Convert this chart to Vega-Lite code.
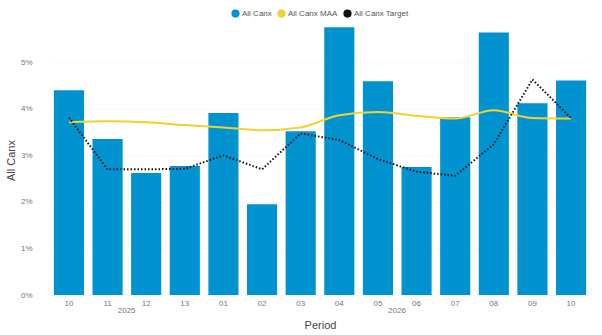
{
  "$schema": "https://vega.github.io/schema/vega-lite/v6.json",
  "width": 602,
  "height": 335,
  "autosize": {"type": "fit", "contains": "padding"},
  "padding": {"left": 5, "right": 12, "top": 9, "bottom": 5},
  "background": "white",
  "config": {
    "font": "Liberation Sans",
    "view": {"stroke": null},
    "legend": {"layout": {"top": {"anchor": "middle"}}},
    "axis": {"labelColor": "#777", "titleColor": "#444", "labelFontSize": 8, "titleFontSize": 11, "titleFontWeight": "normal"}
  },
  "datasets": {
    "main": [
      {"period": "2025-10", "canx": 0.0440, "maa": 0.0371, "target": 0.0381},
      {"period": "2025-11", "canx": 0.0335, "maa": 0.0373, "target": 0.0270},
      {"period": "2025-12", "canx": 0.0262, "maa": 0.0371, "target": 0.0270},
      {"period": "2025-13", "canx": 0.0277, "maa": 0.0365, "target": 0.0271},
      {"period": "2026-01", "canx": 0.0391, "maa": 0.0360, "target": 0.0300},
      {"period": "2026-02", "canx": 0.0195, "maa": 0.0354, "target": 0.0270},
      {"period": "2026-03", "canx": 0.0352, "maa": 0.0360, "target": 0.0347},
      {"period": "2026-04", "canx": 0.0575, "maa": 0.0386, "target": 0.0333},
      {"period": "2026-05", "canx": 0.0459, "maa": 0.0393, "target": 0.0292},
      {"period": "2026-06", "canx": 0.0275, "maa": 0.0385, "target": 0.0265},
      {"period": "2026-07", "canx": 0.0382, "maa": 0.0379, "target": 0.0256},
      {"period": "2026-08", "canx": 0.0564, "maa": 0.0397, "target": 0.0324},
      {"period": "2026-09", "canx": 0.0412, "maa": 0.0380, "target": 0.0463},
      {"period": "2026-10", "canx": 0.0461, "maa": 0.0379, "target": 0.0380}
    ],
    "years": [
      {"period": "2025-11", "year": "2025"},
      {"period": "2026-05", "year": "2026"}
    ]
  },
  "encoding": {
    "x": {
      "field": "period", "type": "ordinal", "title": "Period",
      "scale": {"paddingInner": 0.22, "paddingOuter": 0.1},
      "axis": {"labelAngle": 0, "labelExpr": "substring(datum.value, 5, 7)", "domain": false, "ticks": false, "labelPadding": 4, "titlePadding": 12}
    }
  },
  "layer": [
    {
      "data": {"name": "main"},
      "mark": {"type": "bar"},
      "encoding": {
        "y": {
          "field": "canx", "type": "quantitative", "title": "All Canx",
          "scale": {"domain": [0, 0.058], "nice": false},
          "axis": {"format": ".0%", "values": [0, 0.01, 0.02, 0.03, 0.04, 0.05], "domain": false, "ticks": false, "gridColor": "#eee", "gridDash": [1, 2], "labelPadding": 18, "titlePadding": 4}
        },
        "color": {
          "datum": "All Canx", "type": "nominal",
          "scale": {"domain": ["All Canx", "All Canx MAA", "All Canx Target"], "range": ["#0093D0", "#F2D22E", "#111111"]},
          "legend": {"orient": "top", "title": null, "symbolType": "circle", "symbolSize": 45, "labelFontSize": 8, "labelColor": "#555", "columnPadding": 3, "symbolOffset": 0, "labelOffset": 2, "offset": 5}
        }
      }
    },
    {
      "data": {"name": "main"},
      "mark": {"type": "line", "interpolate": "monotone", "strokeWidth": 2},
      "encoding": {
        "y": {"field": "maa", "type": "quantitative"},
        "color": {"datum": "All Canx MAA", "type": "nominal"}
      }
    },
    {
      "data": {"name": "main"},
      "mark": {"type": "line", "strokeWidth": 2, "strokeDash": [1.5, 2]},
      "encoding": {
        "y": {"field": "target", "type": "quantitative"},
        "color": {"datum": "All Canx Target", "type": "nominal"}
      }
    },
    {
      "data": {"name": "years"},
      "mark": {"type": "text", "fontSize": 8, "color": "#777", "dy": 16, "dx": 4},
      "encoding": {
        "x": {"field": "period", "type": "ordinal", "bandPosition": 1},
        "y": {"datum": 0, "type": "quantitative"},
        "text": {"field": "year"}
      }
    }
  ]
}
